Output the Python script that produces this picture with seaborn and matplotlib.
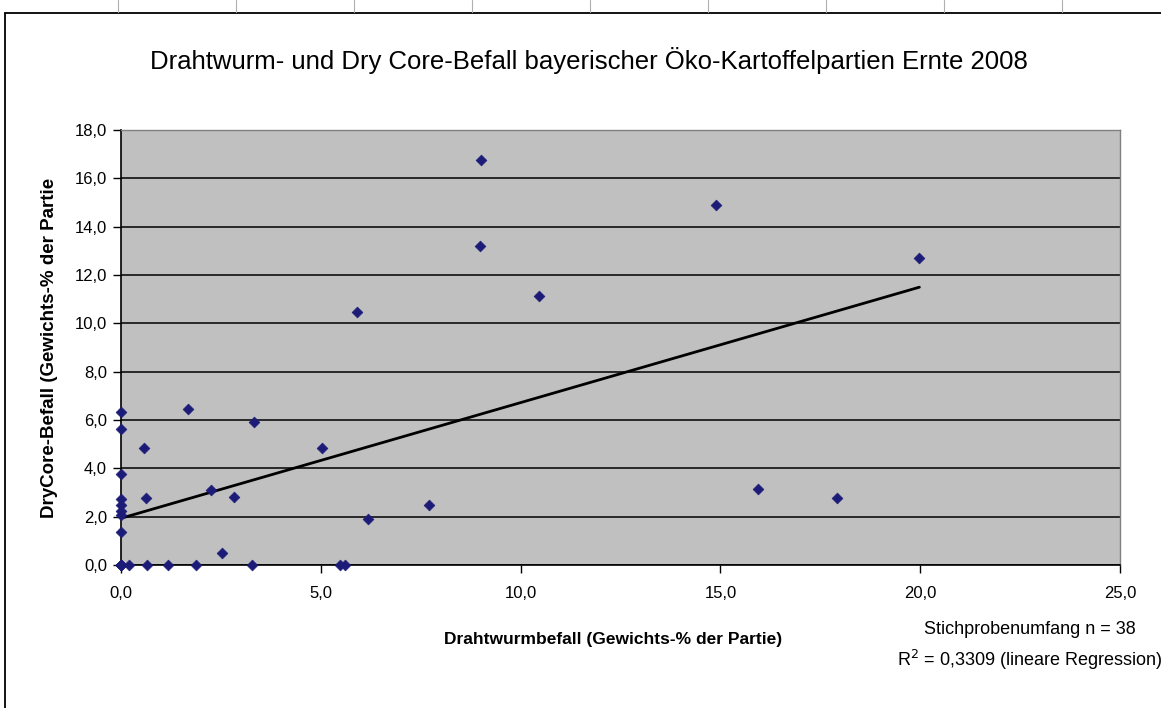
import matplotlib
matplotlib.use("Agg")
import matplotlib.pyplot as plt
from matplotlib.lines import Line2D
from matplotlib.ticker import FuncFormatter, MultipleLocator
import seaborn as sns
import numpy as np
import pandas as pd

# Drahtwurmbefall (x) und Dry-Core-Befall (y), Gewichts-% der Partie
drahtwurm = [0.0, 0.0, 0.0, 0.0, 0.0, 0.0, 0.0, 0.0, 0.0, 0.0, 0.0, 0.0, 0.0,
             1.67, 3.33, 0.58, 0.63, 2.25, 2.83, 2.54,
             0.21, 0.66, 1.17, 1.87, 3.27,
             5.04, 6.18, 7.70, 5.49, 5.60,
             9.02, 8.98, 10.46, 5.90, 14.90, 19.98, 15.95, 17.93]
drycore = [6.32, 5.63, 3.77, 2.72, 2.48, 2.25, 2.07, 1.36, 0.0, 0.0, 0.0, 0.0, 0.0,
           6.44, 5.90, 4.83, 2.77, 3.10, 2.83, 0.48,
           0.0, 0.0, 0.0, 0.0, 0.0,
           4.83, 1.89, 2.48, 0.0, 0.0,
           16.76, 13.20, 11.13, 10.47, 14.90, 12.70, 3.14, 2.77]

titel = "Drahtwurm- und Dry Core-Befall bayerischer Öko-Kartoffelpartien Ernte 2008"
x_label = "Drahtwurmbefall (Gewichts-% der Partie)"
y_label = "DryCore-Befall (Gewichts-% der Partie"
notiz = "Stichprobenumfang n = 38\nR$^2$ = 0,3309 (lineare Regression)"

df = pd.DataFrame({"x": drahtwurm, "y": drycore})

sns.set_style("white")
plt.rcParams["font.family"] = ["Liberation Sans", "DejaVu Sans"]
plt.rcParams["text.color"] = "black"
plt.rcParams["axes.labelcolor"] = "black"
plt.rcParams["xtick.color"] = "black"
plt.rcParams["ytick.color"] = "black"

fig = plt.figure(figsize=(11.61, 7.08), dpi=100)
ax = fig.add_axes([0.1042, 0.2020, 0.8605, 0.6144])
ax.set_facecolor("#C0C0C0")

# horizontale Gitterlinien
ax.set_axisbelow(True)
ax.yaxis.grid(True, color="black", linewidth=1.1)
ax.xaxis.grid(False)

# Regressionsgerade
sns.regplot(data=df, x="x", y="y", scatter=False, ci=None, truncate=True,
            line_kws={"color": "black", "linewidth": 2.0}, ax=ax)

# Punkte
sns.scatterplot(data=df, x="x", y="y", marker="D", s=30, color="#1C1C78",
                edgecolor="#1C1C78", linewidth=0.5, ax=ax, zorder=3, clip_on=False)

ax.set_xlim(0, 25)
ax.set_ylim(0, 18)
ax.xaxis.set_major_locator(MultipleLocator(5))
ax.yaxis.set_major_locator(MultipleLocator(2))
komma = FuncFormatter(lambda v, p: f"{v:.1f}".replace(".", ","))
ax.xaxis.set_major_formatter(komma)
ax.yaxis.set_major_formatter(komma)
ax.tick_params(axis="both", direction="out", length=6, width=1, color="black",
               labelsize=12, bottom=True, left=True)
ax.tick_params(axis="x", pad=9)
ax.tick_params(axis="y", pad=4)

for s in ["left", "bottom"]:
    ax.spines[s].set_color("black")
    ax.spines[s].set_linewidth(1.2)
for s in ["top", "right"]:
    ax.spines[s].set_color("#808080")
    ax.spines[s].set_linewidth(1.0)

ax.set_xlabel(x_label, fontsize=12.5, fontweight="bold")
ax.set_ylabel(y_label, fontsize=13.5, fontweight="bold")
ax.xaxis.set_label_coords(0.493, -0.155)
ax.yaxis.set_label_coords(-0.063, 0.5)

fig.text(0.507, 0.915, titel, fontsize=18.5, ha="center", va="center")
fig.text(0.887, 0.087, notiz, fontsize=13, ha="center", va="center",
         linespacing=1.55)

# äußerer Rahmen des Diagrammbereichs
fig.add_artist(Line2D([5 / 1161, 1.0], [1 - 13 / 708, 1 - 13 / 708],
                      transform=fig.transFigure, color="black", linewidth=1.3))
fig.add_artist(Line2D([5 / 1161, 5 / 1161], [0.0, 1 - 13 / 708],
                      transform=fig.transFigure, color="black", linewidth=1.3))
for px in range(118, 1161, 118):
    fig.add_artist(Line2D([px / 1161, px / 1161], [1 - 12 / 708, 1.0],
                          transform=fig.transFigure, color="#B0B0B0", linewidth=0.8))

fig.savefig("out.png", dpi=100)
